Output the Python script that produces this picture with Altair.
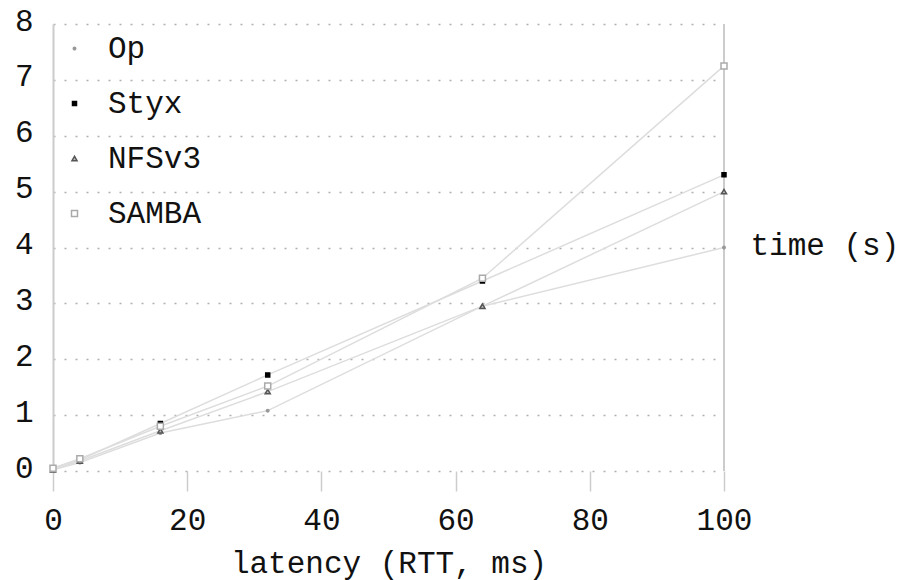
import altair as alt
import pandas as pd

latency = [0, 4, 16, 32, 64, 100]
series_names = ["Op", "Styx", "NFSv3", "SAMBA"]
op = [0.02, 0.15, 0.68, 1.08, 2.95, 4.0]
styx = [0.05, 0.2, 0.85, 1.72, 3.4, 5.3]
nfsv3 = [0.02, 0.18, 0.72, 1.42, 2.95, 5.0]
samba = [0.05, 0.22, 0.8, 1.52, 3.45, 7.25]

rows = []
for name, vals in zip(series_names, [op, styx, nfsv3, samba]):
    for x, y in zip(latency, vals):
        rows.append({"latency": x, "time": y, "series": name})
df = pd.DataFrame(rows)

FONT = "Liberation Mono"
FS = 31

xenc = alt.X("latency:Q", scale=alt.Scale(domain=[0, 100], nice=False),
             axis=alt.Axis(values=[0, 20, 40, 60, 80, 100], title="latency (RTT, ms)",
                           grid=False, domain=False, tickColor="#cccccc", tickSize=20,
                           tickWidth=1.5, labelPadding=14, titlePadding=13, format="d",
                           labelFontSize=FS, titleFontSize=FS, labelFont=FONT,
                           titleFont=FONT, titleFontWeight="normal", labelColor="#111",
                           titleColor="#111", labelFlush=False))
yenc = alt.Y("time:Q", scale=alt.Scale(domain=[0, 8], nice=False),
             axis=alt.Axis(values=list(range(0, 9)), title="time (s)", grid=True,
                           format="d",
                           gridDash=[2, 9], gridColor="#b0b0b0", gridWidth=1.5,
                           domainColor="#cccccc", domainWidth=2, ticks=False,
                           labelPadding=20, labelOffset=-3, labelFontSize=FS,
                           titleFontSize=FS, labelFont=FONT, titleFont=FONT,
                           titleFontWeight="normal", titleAngle=0, titleAlign="left",
                           titleBaseline="middle", titleX=697, titleY=221,
                           labelColor="#111", titleColor="#111"))

lines = alt.Chart(df).mark_line(color="#dddddd", strokeWidth=1.5).encode(
    x=xenc, y=yenc, detail="series:N")

leg = alt.Legend(orient="none", legendX=6, legendY=9, title=None, labelFont=FONT,
                 labelFontSize=FS, labelColor="#111", rowPadding=23, labelOffset=18,
                 padding=0, symbolStrokeWidth=1.5)
points = alt.Chart(df).mark_point(filled=True, strokeWidth=1.5, opacity=1).encode(
    x="latency:Q", y="time:Q",
    shape=alt.Shape("series:N", scale=alt.Scale(domain=series_names,
                    range=["circle", "square", "triangle-up", "square"]), legend=leg),
    fill=alt.Fill("series:N", scale=alt.Scale(domain=series_names,
                  range=["#999999", "#000000", "#bbbbbb", "#ffffff"]), legend=leg),
    stroke=alt.Stroke("series:N", scale=alt.Scale(domain=series_names,
                      range=["#999999", "#000000", "#555555", "#aaaaaa"]), legend=leg),
    size=alt.Size("series:N", scale=alt.Scale(domain=series_names,
                  range=[6, 36, 26, 40]), legend=leg),
)

right_rule = alt.Chart().mark_rule(color="#cccccc", strokeWidth=2).encode(
    x=alt.datum(100))

chart = alt.layer(lines, right_rule, points).properties(
    width=671, height=447,
    padding={"left": 53, "top": 24, "right": 184, "bottom": 109},
    autosize=alt.AutoSizeParams(type="none"),
    background="white",
).configure_view(stroke=None)

chart.save("out.html", embed_options={"renderer": "svg", "actions": False})
